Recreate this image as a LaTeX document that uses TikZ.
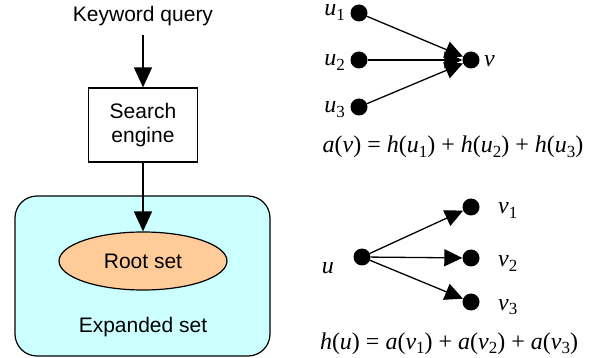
\documentclass[tikz,border=0pt]{standalone}
\usepackage{fontspec}
\setmainfont{Liberation Serif}
\newfontfamily\arialfont{Liberation Sans}
\usetikzlibrary{arrows.meta,shapes.geometric}
\definecolor{cyanbg}{RGB}{204,255,255}
\definecolor{peach}{RGB}{255,204,153}
\newcommand\ix[1]{\raisebox{-0.2em}{\fontsize{17}{17}\selectfont #1}}
\newcommand\mi[1]{\textit{#1}}
\begin{document}
\begin{tikzpicture}[x=1pt,y=-1pt,
  sans/.style={font=\arialfont\fontsize{21}{24}\selectfont},
  lbl/.style={font=\fontsize{24}{26}\selectfont,inner sep=0,text height=0.5em},
  eqn/.style={font=\fontsize{24}{26}\selectfont,inner sep=0,text height=0.7em,text depth=0.1em},
  dot/.style={circle,fill=black,inner sep=0,minimum size=17pt},
  arr/.style={line width=1.5pt,-{Triangle[length=20pt,width=18pt]}},
  arrs/.style={line width=1.3pt,-{Triangle[length=18pt,width=17pt]}},
  box/.style={draw,line width=1.2pt}]
\useasboundingbox (0,0) rectangle (600,358);
% left part
\node[sans,anchor=base,inner sep=0] (kq) at (143,22) {Keyword query};
\node[box,sans,minimum width=109pt,minimum height=74pt,align=center] (se) at (143,125) {Search\\engine};
\node[box,fill=cyanbg,rounded corners=22pt,minimum width=255pt,minimum height=160pt] (exp) at (142.5,276) {};
\node[box,ellipse,fill=peach,minimum width=168pt,minimum height=58pt,inner sep=0,sans] (root) at (143,261) {Root set};
\node[sans] (explbl) at (143,327) {Expanded set};
\draw[arr,shorten <=8.5pt] (kq) -- (se);
\draw[arr] (se) -- (root);
% right top
\node[dot] (u1) at (359,13) {};
\node[dot] (u2) at (359,60) {};
\node[dot] (u3) at (359,107) {};
\node[dot] (v) at (471,60) {};
\node[lbl,anchor=base east] (lu1) at (345,16) {\mi{u}\ix{1}};
\node[lbl,anchor=base east] (lu2) at (345,66) {\mi{u}\ix{2}};
\node[lbl,anchor=base east] (lu3) at (345,113) {\mi{u}\ix{3}};
\node[lbl,anchor=base west] (lv) at (484,67) {\mi{v}};
\draw[arrs] (u1) -- (v);
\draw[arrs] (u2) -- (v);
\draw[arrs] (u3) -- (v);
\node[eqn,anchor=base] (eqa) at (453,153) {\mi{a}(\mi{v}) = \mi{h}(\mi{u}\ix{1}) + \mi{h}(\mi{u}\ix{2}) + \mi{h}(\mi{u}\ix{3})};
% right bottom
\node[dot] (u) at (362,257) {};
\node[dot] (v1) at (471,207) {};
\node[dot] (v2) at (471,258) {};
\node[dot] (v3) at (471,302) {};
\node[lbl,anchor=base east] (lu) at (334,273) {\mi{u}};
\node[lbl,anchor=base west] (lv1) at (498,214) {\mi{v}\ix{1}};
\node[lbl,anchor=base west] (lv2) at (498,267) {\mi{v}\ix{2}};
\node[lbl,anchor=base west] (lv3) at (498,310) {\mi{v}\ix{3}};
\draw[arrs] (u) -- (v1);
\draw[arrs] (u) -- (v2);
\draw[arrs] (u) -- (v3);
\node[eqn,anchor=base] (eqh) at (449,349) {\mi{h}(\mi{u}) = \mi{a}(\mi{v}\ix{1}) + \mi{a}(\mi{v}\ix{2}) + \mi{a}(\mi{v}\ix{3})};
\end{tikzpicture}
\end{document}
